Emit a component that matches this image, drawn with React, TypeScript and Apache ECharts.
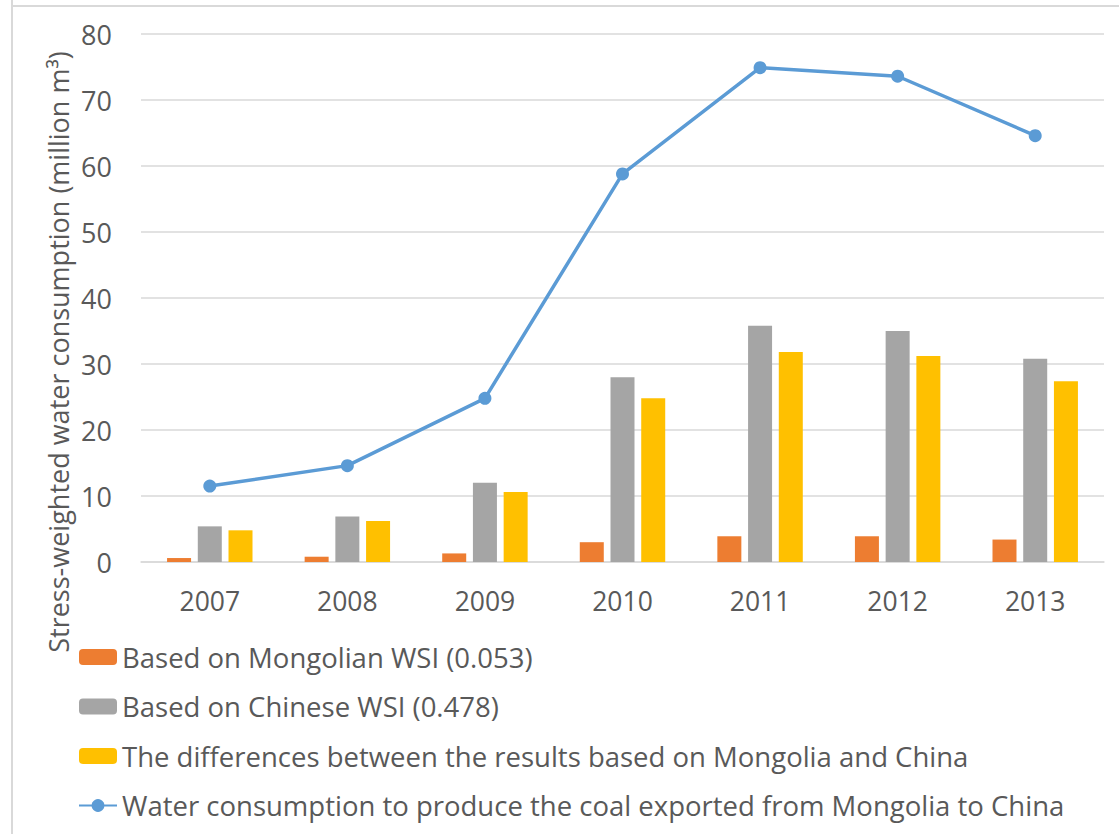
import React, { useEffect, useRef } from "react";
import * as echarts from "echarts";

const years = ["2007", "2008", "2009", "2010", "2011", "2012", "2013"];
const mongolianWSI = [0.6, 0.8, 1.3, 3.0, 3.9, 3.9, 3.4];
const chineseWSI = [5.4, 6.9, 12.0, 28.0, 35.8, 35.0, 30.8];
const differences = [4.8, 6.2, 10.6, 24.8, 31.8, 31.2, 27.4];
const waterConsumption = [11.5, 14.6, 24.8, 58.8, 74.9, 73.6, 64.6];
const yTicks = [0, 10, 20, 30, 40, 50, 60, 70, 80];

const seriesNames = [
  "Based on Mongolian WSI (0.053)",
  "Based on Chinese WSI (0.478)",
  "The differences between the results based on Mongolia and China",
  "Water consumption to produce the coal exported from Mongolia to China",
];

const FONT = "'Open Sans'";
const TXT = "#595959";

export default function App() {
  const ref = useRef<HTMLDivElement>(null);
  useEffect(() => {
    if (!ref.current) return;
    const chart = echarts.init(ref.current, undefined, { renderer: "svg" });
    chart.setOption({
      animation: false,
      textStyle: { fontFamily: FONT },
      grid: { left: 141, right: 15, top: 34, bottom: 272, containLabel: false },
      xAxis: {
        type: "category",
        data: years,
        axisLine: { show: true, lineStyle: { color: "#D9D9D9", width: 1.5 } },
        axisTick: { show: false },
        axisLabel: { color: TXT, fontSize: 26.5, fontFamily: FONT, margin: 25 },
      },
      yAxis: {
        type: "value",
        min: yTicks[0],
        max: yTicks[yTicks.length - 1],
        interval: 10,
        axisLine: { show: false },
        axisTick: { show: false },
        splitLine: { lineStyle: { color: "#D9D9D9", width: 1.5 } },
        axisLabel: { color: TXT, fontSize: 27, fontFamily: FONT, margin: 29 },
      },
      legend: {
        orient: "vertical",
        left: 78,
        top: 642,
        padding: 0,
        itemWidth: 38,
        itemHeight: 16,
        itemGap: 19.5,
        itemTextGap: 3,
        itemStyle: { borderWidth: 0 },
        textStyle: { color: TXT, fontSize: 27.5, fontFamily: FONT, lineHeight: 30 },
        data: seriesNames,
      },
      graphic: [
        { type: "line", shape: { x1: 12, y1: 0, x2: 12, y2: 834 }, style: { stroke: "#D9D9D9", lineWidth: 2 } },
        { type: "line", shape: { x1: 12, y1: 6, x2: 1119, y2: 6 }, style: { stroke: "#D9D9D9", lineWidth: 2 } },
        {
          type: "text",
          x: 58,
          y: 352,
          rotation: Math.PI / 2,
          style: {
            text: "Stress-weighted water consumption (million m³)",
            fill: TXT,
            font: `27px ${FONT}`,
            align: "center",
            verticalAlign: "middle",
          },
        },
      ],
      series: [
        {
          name: seriesNames[0],
          type: "bar",
          data: mongolianWSI,
          barWidth: 24,
          barGap: "28%",
          itemStyle: { color: "#ED7D31" },
        },
        {
          name: seriesNames[1],
          type: "bar",
          data: chineseWSI,
          barWidth: 24,
          barGap: "28%",
          itemStyle: { color: "#A5A5A5" },
        },
        {
          name: seriesNames[2],
          type: "bar",
          data: differences,
          barWidth: 24,
          barGap: "28%",
          itemStyle: { color: "#FFC000" },
        },
        {
          name: seriesNames[3],
          type: "line",
          data: waterConsumption,
          symbol: "circle",
          symbolSize: 13,
          lineStyle: { color: "#5B9BD5", width: 3.5 },
          itemStyle: { color: "#5B9BD5" },
        },
      ],
    });
    return () => chart.dispose();
  }, []);
  return (
    <div
      ref={ref}
      style={{ position: "fixed", left: 0, top: 0, width: 1119, height: 834, background: "#fff" }}
    />
  );
}
